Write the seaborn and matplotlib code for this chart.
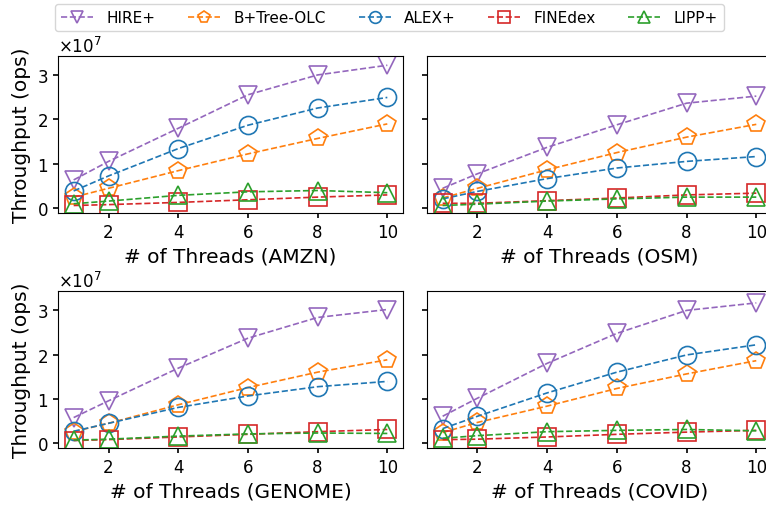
import pandas as pd
import matplotlib.pyplot as plt
import matplotlib.ticker as mtick
import seaborn as sns

sns.set_style("ticks", rc={"axes.edgecolor": "black", "xtick.color": "black",
                           "ytick.color": "black", "axes.linewidth": 1.3,
                           "text.color": "black", "axes.labelcolor": "black"})

threads = [1, 2, 4, 6, 8, 10]
methods = ["HIRE+", "B+Tree-OLC", "ALEX+", "FINEdex", "LIPP+"]
colors  = ["#9467bd", "#ff7f0e", "#1f77b4", "#d62728", "#2ca02c"]
markers = ["v", "p", "o", "s", "^"]

# throughput in units of 1e7 ops
amzn = {
    "HIRE+":      [0.63, 1.05, 1.80, 2.56, 3.01, 3.23],
    "B+Tree-OLC": [0.24, 0.44, 0.84, 1.22, 1.57, 1.90],
    "ALEX+":      [0.38, 0.72, 1.34, 1.87, 2.26, 2.50],
    "FINEdex":    [0.05, 0.07, 0.12, 0.18, 0.24, 0.29],
    "LIPP+":      [0.09, 0.15, 0.28, 0.36, 0.39, 0.34],
}
osm = {
    "HIRE+":      [0.44, 0.77, 1.37, 1.88, 2.37, 2.53],
    "B+Tree-OLC": [0.22, 0.44, 0.86, 1.25, 1.60, 1.89],
    "ALEX+":      [0.20, 0.37, 0.66, 0.90, 1.05, 1.16],
    "FINEdex":    [0.10, 0.10, 0.16, 0.22, 0.29, 0.33],
    "LIPP+":      [0.05, 0.08, 0.15, 0.20, 0.24, 0.24],
}
genome = {
    "HIRE+":      [0.57, 0.95, 1.69, 2.37, 2.84, 3.02],
    "B+Tree-OLC": [0.25, 0.44, 0.86, 1.25, 1.60, 1.88],
    "ALEX+":      [0.26, 0.44, 0.80, 1.06, 1.27, 1.39],
    "FINEdex":    [0.05, 0.07, 0.13, 0.19, 0.25, 0.30],
    "LIPP+":      [0.06, 0.08, 0.15, 0.20, 0.22, 0.21],
}
covid = {
    "HIRE+":      [0.60, 1.01, 1.80, 2.48, 3.00, 3.17],
    "B+Tree-OLC": [0.23, 0.46, 0.83, 1.23, 1.56, 1.86],
    "ALEX+":      [0.32, 0.60, 1.13, 1.60, 1.99, 2.22],
    "FINEdex":    [0.07, 0.08, 0.13, 0.19, 0.24, 0.28],
    "LIPP+":      [0.10, 0.16, 0.25, 0.28, 0.30, 0.27],
}
panels = [("AMZN", amzn), ("OSM", osm), ("GENOME", genome), ("COVID", covid)]

fig = plt.figure(figsize=(7.66, 5.10), dpi=100)
W, H = 0.4504, 0.307
boxes = [(0.0757, 0.5804), (0.5574, 0.5804), (0.0757, 0.1196), (0.5574, 0.1196)]
axes = []
for i, (name, data) in enumerate(panels):
    l, b = boxes[i]
    ax = fig.add_axes([l, b, W, H], sharey=axes[0] if axes else None)
    axes.append(ax)
    for m, c, mk in zip(methods, colors, markers):
        vals = [v * 1e7 for v in data[m]]
        sns.lineplot(x=threads, y=vals, ax=ax, color=c, marker=mk,
                     linestyle="--", linewidth=1.2, markersize=13,
                     markerfacecolor="none", markeredgecolor=c,
                     markeredgewidth=1.2, label=m, legend=False)
    if ax.get_legend():
        ax.get_legend().remove()
    ax.set_xlim(0.55, 10.45)
    ax.set_xticks([2, 4, 6, 8, 10])
    ax.set_xlabel(f"# of Threads ({name})", fontsize=14.5)
    ax.tick_params(labelsize=12, width=1.2)
    fmt = mtick.ScalarFormatter(useMathText=True)
    fmt.set_powerlimits((0, 0))
    ax.yaxis.set_major_formatter(fmt)
    ax.yaxis.get_offset_text().set_fontsize(12)
    if i % 2 == 0:
        ax.set_ylabel("Throughput (ops)", fontsize=14.5)
    else:
        ax.set_ylabel("")
        ax.tick_params(labelleft=False)

axes[0].set_ylim(-0.12e7, 3.43e7)
axes[0].set_yticks([0, 1e7, 2e7, 3e7])
for ax in axes[1::2]:
    ax.yaxis.get_offset_text().set_visible(False)

handles, labels = axes[0].get_legend_handles_labels()
fig.legend(handles, labels, loc="center", bbox_to_anchor=(0.5085, 0.963),
           ncol=5, fontsize=11, markerscale=0.65, handlelength=2.1,
           handletextpad=0.85, columnspacing=2.15, frameon=True)

fig.savefig("out.png", dpi=100)
plt.close()
